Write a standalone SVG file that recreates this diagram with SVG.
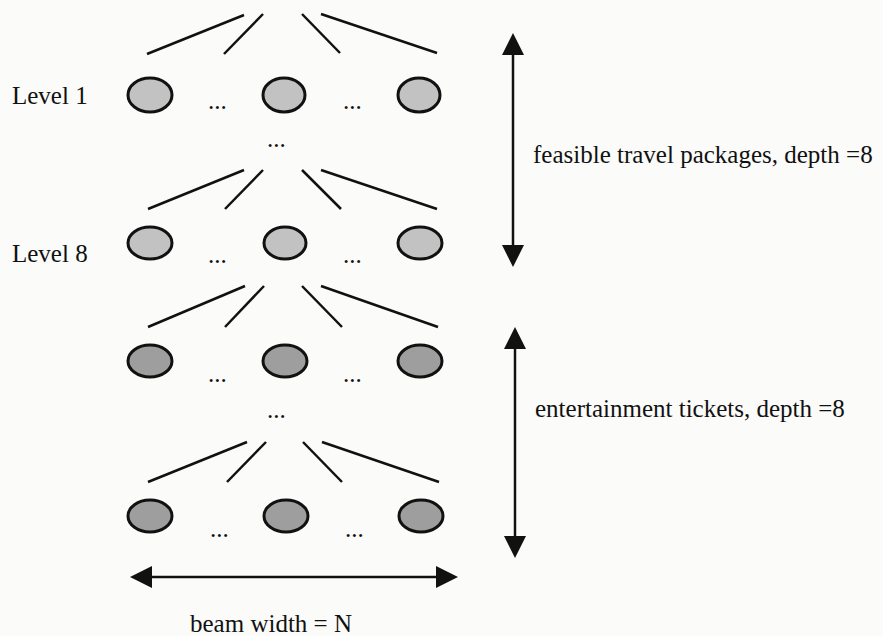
<svg xmlns="http://www.w3.org/2000/svg" width="883" height="636" viewBox="0 0 883 636">
<defs>
<style>
text{font-family:"Liberation Serif","Times New Roman",serif;font-size:25px;fill:#111}
.e1{fill:#c2c2c2;stroke:#111;stroke-width:3}
.e2{fill:#9e9e9e;stroke:#111;stroke-width:3}
.c line{stroke:#111;stroke-width:2.5}
.a{stroke:#111;stroke-width:2.5;fill:none}
</style>
</defs>
<rect width="883" height="636" fill="#fbfbfa"/>
<g id="connectors" class="c">
<line x1="147" y1="54" x2="244" y2="15"/><line x1="224" y1="54" x2="263" y2="14"/><line x1="302" y1="14" x2="340" y2="53"/><line x1="321" y1="14" x2="437" y2="53"/>
<line x1="148" y1="209" x2="244" y2="170"/><line x1="225" y1="209" x2="263" y2="170"/><line x1="302" y1="170" x2="341" y2="209"/><line x1="321" y1="170" x2="437" y2="209"/>
<line x1="148" y1="327" x2="245" y2="286"/><line x1="225" y1="327" x2="264" y2="286"/><line x1="302" y1="286" x2="342" y2="327"/><line x1="321" y1="286" x2="438" y2="327"/>
<line x1="148" y1="482" x2="247" y2="442"/><line x1="227" y1="482" x2="266" y2="442"/><line x1="303" y1="442" x2="342" y2="482"/><line x1="322" y1="442" x2="439" y2="482"/>
</g>
<g id="level1">
<text x="12" y="104">Level 1</text>
<ellipse class="e1" cx="150" cy="95" rx="22" ry="17"/>
<ellipse class="e1" cx="284" cy="95" rx="21" ry="17"/>
<ellipse class="e1" cx="419" cy="95" rx="21" ry="17"/>
<text x="208" y="109">...</text><text x="343" y="109">...</text>
</g>
<text x="267" y="147">...</text>
<g id="level8">
<text x="12" y="262">Level 8</text>
<ellipse class="e1" cx="150" cy="243" rx="22" ry="16"/>
<ellipse class="e1" cx="285" cy="243" rx="21" ry="16"/>
<ellipse class="e1" cx="420" cy="243" rx="22" ry="16"/>
<text x="208" y="263">...</text><text x="343" y="263">...</text>
</g>
<g id="ticket1">
<ellipse class="e2" cx="150" cy="361" rx="22" ry="16"/>
<ellipse class="e2" cx="285" cy="361" rx="22" ry="16"/>
<ellipse class="e2" cx="420" cy="361" rx="22" ry="16"/>
<text x="208" y="382">...</text><text x="343" y="382">...</text>
</g>
<text x="267" y="418">...</text>
<g id="ticket8">
<ellipse class="e2" cx="150" cy="516" rx="22" ry="16"/>
<ellipse class="e2" cx="286" cy="516" rx="22" ry="16"/>
<ellipse class="e2" cx="421" cy="516" rx="22" ry="16"/>
<text x="210" y="537">...</text><text x="345" y="537">...</text>
</g>
<g id="depth1">
<line class="a" x1="513" y1="55" x2="513" y2="245"/>
<path d="M513,33 L502,55 L524,55 z" fill="#111"/>
<path d="M513,267 L502,245 L524,245 z" fill="#111"/>
<text x="533" y="163">feasible travel packages, depth =8</text>
</g>
<g id="depth2">
<line class="a" x1="515" y1="349" x2="515" y2="536"/>
<path d="M515,327 L504,349 L526,349 z" fill="#111"/>
<path d="M515,558 L504,536 L526,536 z" fill="#111"/>
<text x="535" y="417">entertainment tickets, depth =8</text>
</g>
<g id="beam">
<line class="a" x1="152" y1="577" x2="436" y2="577"/>
<path d="M130,577 L152,566 L152,588 z" fill="#111"/>
<path d="M458,577 L436,566 L436,588 z" fill="#111"/>
<text x="190" y="632">beam width = N</text>
</g>
</svg>
